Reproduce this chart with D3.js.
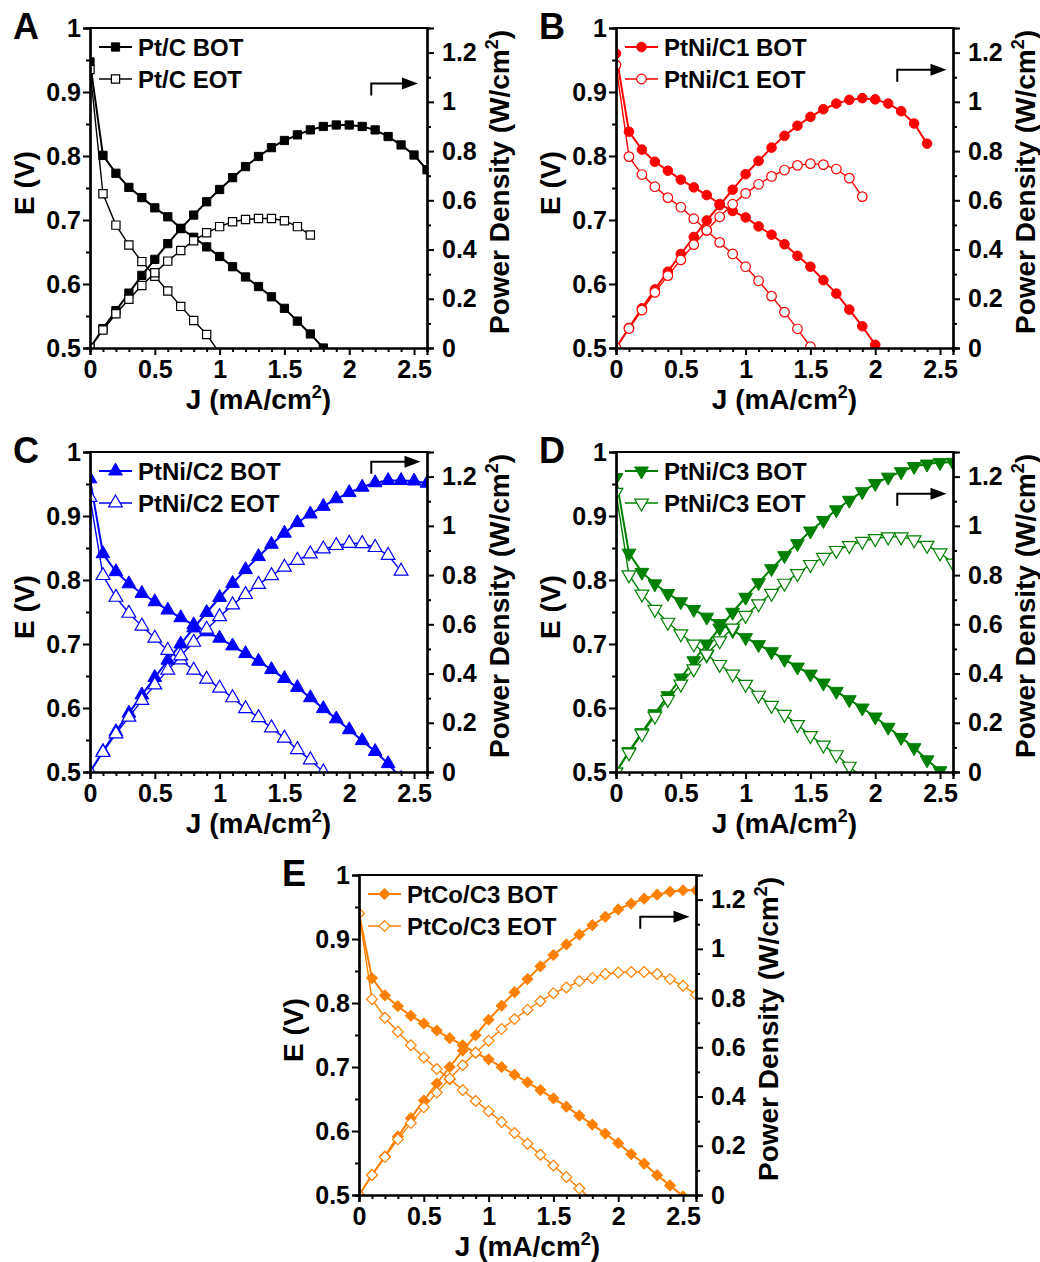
<!DOCTYPE html>
<html>
<head>
<meta charset="utf-8">
<script src="https://cdn.jsdelivr.net/npm/d3@7"></script>
<style>
  body { margin: 0; background: #fff; }
  svg text { font-family: "Liberation Sans", Arial, sans-serif; font-weight: bold; }
</style>
</head>
<body>
<div class="chart"></div>
<script>
// current density steps (same for every curve, each curve uses the first n values)
var J = [0, 0.1, 0.2, 0.3, 0.4, 0.5, 0.6, 0.7, 0.8, 0.9, 1.0, 1.1, 1.2, 1.3,
  1.4, 1.5, 1.6, 1.7, 1.8, 1.9, 2.0, 2.1, 2.2, 2.3, 2.4, 2.5, 2.6];

// axis ticks
var eTicks = [0.5, 0.6, 0.7, 0.8, 0.9, 1];
var pTicks = [0, 0.2, 0.4, 0.6, 0.8, 1, 1.2];
var jTicks = [0, 0.5, 1, 1.5, 2, 2.5];

// A - Pt/C
var eBotA = [0.947, 0.801, 0.773, 0.751, 0.735, 0.719, 0.705, 0.687, 0.673, 0.658, 0.643, 0.627, 0.611, 0.596, 0.580, 0.562, 0.542, 0.522, 0.500];
var pBotA = [0, 0.079, 0.152, 0.223, 0.295, 0.360, 0.424, 0.485, 0.540, 0.594, 0.644, 0.692, 0.737, 0.778, 0.814, 0.843, 0.866, 0.886, 0.900, 0.906, 0.906, 0.900, 0.886, 0.859, 0.825, 0.784, 0.724];
var eEotA = [0.935, 0.741, 0.692, 0.661, 0.635, 0.612, 0.589, 0.565, 0.543, 0.521, 0.492];
var pEotA = [0, 0.073, 0.139, 0.198, 0.254, 0.306, 0.353, 0.396, 0.436, 0.468, 0.493, 0.513, 0.522, 0.526, 0.526, 0.517, 0.493, 0.459];

// B - PtNi/C1
var eBotB = [0.960, 0.838, 0.810, 0.791, 0.777, 0.763, 0.751, 0.739, 0.725, 0.714, 0.704, 0.690, 0.677, 0.662, 0.644, 0.627, 0.606, 0.585, 0.560, 0.534, 0.505];
var pBotB = [0, 0.082, 0.161, 0.238, 0.310, 0.382, 0.451, 0.518, 0.580, 0.643, 0.706, 0.760, 0.814, 0.862, 0.903, 0.939, 0.970, 0.993, 1.008, 1.015, 1.010, 0.993, 0.962, 0.912, 0.830];
var eEotB = [0.942, 0.799, 0.771, 0.752, 0.735, 0.720, 0.702, 0.684, 0.665, 0.647, 0.627, 0.605, 0.581, 0.556, 0.530, 0.502];
var pEotB = [0, 0.079, 0.154, 0.226, 0.294, 0.358, 0.420, 0.478, 0.533, 0.584, 0.628, 0.665, 0.697, 0.723, 0.742, 0.749, 0.745, 0.727, 0.690, 0.615];

// C - PtNi/C2
var eBotC = [0.958, 0.841, 0.813, 0.794, 0.779, 0.766, 0.753, 0.741, 0.730, 0.719, 0.709, 0.697, 0.685, 0.673, 0.660, 0.646, 0.632, 0.616, 0.599, 0.583, 0.566, 0.549, 0.532, 0.513, 0.490];
var pBotC = [0, 0.084, 0.164, 0.239, 0.313, 0.384, 0.454, 0.520, 0.585, 0.648, 0.709, 0.766, 0.822, 0.875, 0.925, 0.970, 1.013, 1.048, 1.079, 1.110, 1.135, 1.157, 1.175, 1.184, 1.184, 1.182, 1.173];
var eEotC = [0.929, 0.807, 0.773, 0.748, 0.728, 0.709, 0.690, 0.675, 0.659, 0.645, 0.631, 0.616, 0.599, 0.585, 0.569, 0.553, 0.535, 0.519, 0.500];
var pEotC = [0, 0.080, 0.155, 0.223, 0.291, 0.354, 0.414, 0.472, 0.527, 0.580, 0.631, 0.679, 0.721, 0.762, 0.798, 0.832, 0.860, 0.886, 0.906, 0.920, 0.929, 0.928, 0.912, 0.880, 0.816];

// D - PtNi/C3
var eBotD = [0.960, 0.842, 0.812, 0.794, 0.779, 0.766, 0.754, 0.742, 0.732, 0.721, 0.710, 0.699, 0.688, 0.676, 0.664, 0.653, 0.639, 0.626, 0.613, 0.600, 0.586, 0.570, 0.554, 0.538, 0.519, 0.502];
var pBotD = [0, 0.083, 0.160, 0.237, 0.310, 0.382, 0.452, 0.520, 0.585, 0.649, 0.710, 0.769, 0.826, 0.879, 0.928, 0.979, 1.022, 1.065, 1.104, 1.139, 1.172, 1.198, 1.220, 1.241, 1.251, 1.257, 1.258];
var eEotD = [0.937, 0.808, 0.778, 0.754, 0.734, 0.716, 0.700, 0.683, 0.668, 0.653, 0.637, 0.620, 0.604, 0.590, 0.574, 0.557, 0.542, 0.527, 0.509, 0.491];
var pEotD = [0, 0.078, 0.155, 0.227, 0.295, 0.357, 0.419, 0.479, 0.533, 0.585, 0.636, 0.683, 0.726, 0.767, 0.806, 0.843, 0.872, 0.900, 0.920, 0.937, 0.948, 0.955, 0.955, 0.943, 0.921, 0.890, 0.849];

// E - PtCo/C3
var eBotE = [0.940, 0.839, 0.812, 0.795, 0.780, 0.768, 0.757, 0.745, 0.734, 0.722, 0.712, 0.700, 0.688, 0.676, 0.664, 0.651, 0.638, 0.624, 0.610, 0.596, 0.581, 0.564, 0.549, 0.531, 0.515, 0.498];
var pBotE = [0, 0.081, 0.157, 0.238, 0.312, 0.384, 0.453, 0.520, 0.587, 0.649, 0.712, 0.769, 0.824, 0.877, 0.929, 0.975, 1.018, 1.058, 1.096, 1.130, 1.160, 1.184, 1.204, 1.220, 1.232, 1.238, 1.238];
var eEotE = [0.940, 0.806, 0.777, 0.755, 0.734, 0.715, 0.697, 0.681, 0.664, 0.647, 0.631, 0.614, 0.597, 0.580, 0.563, 0.546, 0.528, 0.510, 0.492];
var pEotE = [0, 0.081, 0.154, 0.226, 0.292, 0.356, 0.416, 0.473, 0.527, 0.579, 0.627, 0.674, 0.715, 0.753, 0.787, 0.820, 0.843, 0.868, 0.882, 0.898, 0.904, 0.906, 0.906, 0.898, 0.877, 0.850, 0.814];

var svgWidth = 1040;
var svgHeight = 1262;
var width = 337;
var height = 320;

var svg = d3.select(".chart")
  .append("svg")
  .attr("width", svgWidth)
  .attr("height", svgHeight);

var panels = [
  { letter: "A", left: 90, top: 28, color: "#000000", shape: "square", name: "Pt/C",
    eBot: eBotA, pBot: pBotA, eEot: eEotA, pEot: pEotA, arrow: [2.17, 2.53, 1.075] },
  { letter: "B", left: 616, top: 28, color: "#ff0000", shape: "circle", name: "PtNi/C1",
    eBot: eBotB, pBot: pBotB, eEot: eEotB, pEot: pEotB, arrow: [2.17, 2.55, 1.13] },
  { letter: "C", left: 90, top: 452, color: "#0000ff", shape: "up", name: "PtNi/C2",
    eBot: eBotC, pBot: pBotC, eEot: eEotC, pEot: pEotC, arrow: [2.17, 2.55, 1.26] },
  { letter: "D", left: 616, top: 452, color: "#008000", shape: "down", name: "PtNi/C3",
    eBot: eBotD, pBot: pBotD, eEot: eEotD, pEot: pEotD, arrow: [2.17, 2.55, 1.13] },
  { letter: "E", left: 359, top: 875, color: "#ff8000", shape: "diamond", name: "PtCo/C3",
    eBot: eBotE, pBot: pBotE, eEot: eEotE, pEot: pEotE, arrow: [2.17, 2.55, 1.13] }
];

var x = d3.scaleLinear().domain([0, 2.6]).range([0, width]);
var yE = d3.scaleLinear().domain([0.5, 1]).range([height, 0]);
var yP = d3.scaleLinear().domain([0, 1.3]).range([height, 0]);
var fmt = d3.format("~g");

function symbolPath(shape) {
  if (shape === "circle") return d3.symbol(d3.symbolCircle, 72)();
  if (shape === "square") return d3.symbol(d3.symbolSquare, 68)();
  if (shape === "diamond") return d3.symbol(d3.symbolSquare, 58)();
  return d3.symbol(d3.symbolTriangle, 82)();
}
function symbolRotate(shape) {
  if (shape === "down") return " rotate(180)";
  if (shape === "diamond") return " rotate(45)";
  return "";
}

panels.forEach(function(p, k) {
  var g = svg.append("g").attr("transform", `translate(${p.left}, ${p.top})`);

  g.append("clipPath").attr("id", "clip" + k)
    .append("rect").attr("width", width).attr("height", height);

  var plot = g.append("g").attr("clip-path", `url(#clip${k})`);

  var series = [
    { vals: p.eBot, y: yE, open: false },
    { vals: p.pBot, y: yP, open: false },
    { vals: p.eEot, y: yE, open: true },
    { vals: p.pEot, y: yP, open: true }
  ];

  series.forEach(function(s) {
    var pts = s.vals.map(function(v, i) { return [J[i], v]; });
    plot.append("path")
      .datum(pts)
      .attr("fill", "none")
      .attr("stroke", p.color)
      .attr("stroke-width", s.open ? 1.4 : 2)
      .attr("d", d3.line().x(d => x(d[0])).y(d => s.y(d[1])));

    plot.selectAll(null)
      .data(pts)
      .enter()
      .append("path")
      .attr("d", symbolPath(p.shape))
      .attr("transform", d => `translate(${x(d[0])}, ${s.y(d[1])})` + symbolRotate(p.shape))
      .attr("fill", s.open ? "#fff" : p.color)
      .attr("stroke", p.color)
      .attr("stroke-width", s.open ? 1.2 : 1);
  });

  // axes, major + minor
  function style(ax) {
    ax.selectAll("path.domain").attr("stroke-width", 2.2);
    ax.selectAll(".tick line").attr("stroke-width", 2);
    ax.selectAll("text").attr("font-size", "25px").attr("fill", "#000");
  }

  g.append("g").call(d3.axisLeft(yE).tickValues(d3.range(0.55, 1, 0.1)).tickSize(4).tickFormat(""))
    .call(style);
  g.append("g").call(d3.axisLeft(yE).tickValues(eTicks).tickSize(7).tickPadding(2).tickFormat(fmt))
    .call(style);

  g.append("g").attr("transform", `translate(${width}, 0)`)
    .call(d3.axisRight(yP).tickValues(d3.range(0.1, 1.3, 0.2)).tickSize(4).tickFormat(""))
    .call(style);
  g.append("g").attr("transform", `translate(${width}, 0)`)
    .call(d3.axisRight(yP).tickValues(pTicks).tickSize(7).tickPadding(8).tickFormat(fmt))
    .call(style);

  g.append("g").attr("transform", `translate(0, ${height})`)
    .call(d3.axisBottom(x).tickValues(J.filter(v => Math.round(v * 10) % 5 !== 0)).tickSize(4).tickFormat(""))
    .call(style);
  g.append("g").attr("transform", `translate(0, ${height})`)
    .call(d3.axisBottom(x).tickValues(jTicks).tickSize(7).tickPadding(5).tickFormat(fmt))
    .call(style);

  g.append("line")
    .attr("x1", -1).attr("x2", width + 1).attr("y1", 0).attr("y2", 0)
    .attr("stroke", "#000").attr("stroke-width", 2.2);

  // axis titles
  g.append("text")
    .attr("transform", `translate(-56, ${height / 2 - 5}) rotate(-90)`)
    .attr("text-anchor", "middle")
    .attr("font-size", "28px")
    .text("E (V)");

  var pt = g.append("text")
    .attr("transform", `translate(${width + 82}, ${height / 2 - 6}) rotate(-90)`)
    .attr("text-anchor", "middle")
    .attr("font-size", "28px");
  pt.append("tspan").text("Power Density (W/cm");
  pt.append("tspan").attr("font-size", "18px").attr("dy", "-11").text("2");
  pt.append("tspan").attr("dy", "11").text(")");

  var xt = g.append("text")
    .attr("x", width / 2)
    .attr("y", height + 61)
    .attr("text-anchor", "middle")
    .attr("font-size", "28px");
  xt.append("tspan").text("J (mA/cm");
  xt.append("tspan").attr("font-size", "18px").attr("dy", "-11").text("2");
  xt.append("tspan").attr("dy", "11").text(")");

  // panel letter
  g.append("text")
    .attr("x", -77)
    .attr("y", 11)
    .attr("font-size", "36px")
    .text(p.letter);

  // legend
  [["BOT", false], ["EOT", true]].forEach(function(l, i) {
    var ly = 19 + i * 32;
    g.append("line")
      .attr("x1", 9).attr("x2", 42).attr("y1", ly).attr("y2", ly)
      .attr("stroke", p.color).attr("stroke-width", l[1] ? 1.4 : 2);
    g.append("path")
      .attr("d", symbolPath(p.shape))
      .attr("transform", `translate(25.5, ${ly})` + symbolRotate(p.shape))
      .attr("fill", l[1] ? "#fff" : p.color)
      .attr("stroke", p.color)
      .attr("stroke-width", l[1] ? 1.2 : 1);
    g.append("text")
      .attr("x", 48)
      .attr("y", ly + 8.5)
      .attr("font-size", "24px")
      .text(p.name + " " + l[0]);
  });

  // arrow pointing at right axis
  var ax0 = x(p.arrow[0]), ax1 = x(p.arrow[1]), ay = yP(p.arrow[2]);
  g.append("path")
    .attr("d", `M${ax0},${ay + 12}V${ay}H${ax1 - 14}`)
    .attr("fill", "none")
    .attr("stroke", "#000")
    .attr("stroke-width", 2);
  g.append("path")
    .attr("d", `M${ax1 - 16},${ay - 6}L${ax1},${ay}L${ax1 - 16},${ay + 6}Z`)
    .attr("fill", "#000");
});
</script>
</body>
</html>
